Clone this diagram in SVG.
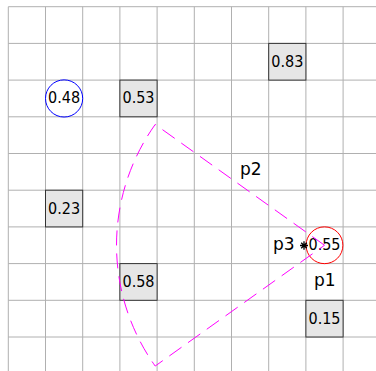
<svg xmlns="http://www.w3.org/2000/svg" width="376" height="371" viewBox="0 0 376 371">
<style>
.grid line{stroke:#b0b0b0;stroke-width:1}
.box{fill:#e6e6e6;stroke:#333333;stroke-width:1}
.lbl{font-family:"DejaVu Sans Condensed","DejaVu Sans",sans-serif;font-stretch:condensed;font-size:16px;fill:#000;text-anchor:middle}
.plbl{font-family:"DejaVu Sans",sans-serif;font-size:17px;fill:#000;text-anchor:middle}
.wedge{fill:none;stroke:#ff00ff;stroke-width:1;stroke-dasharray:15 8}
</style>
<rect width="376" height="371" fill="#ffffff"/>
<g class="grid">
<line x1="8.3" y1="6.7" x2="8.3" y2="371"/>
<line x1="45.5" y1="6.7" x2="45.5" y2="371"/>
<line x1="82.7" y1="6.7" x2="82.7" y2="371"/>
<line x1="119.9" y1="6.7" x2="119.9" y2="371"/>
<line x1="157.1" y1="6.7" x2="157.1" y2="371"/>
<line x1="194.3" y1="6.7" x2="194.3" y2="371"/>
<line x1="231.5" y1="6.7" x2="231.5" y2="371"/>
<line x1="268.7" y1="6.7" x2="268.7" y2="371"/>
<line x1="305.9" y1="6.7" x2="305.9" y2="371"/>
<line x1="343.1" y1="6.7" x2="343.1" y2="371"/>
<line x1="8.3" y1="6.7" x2="376" y2="6.7"/>
<line x1="8.3" y1="43.4" x2="376" y2="43.4"/>
<line x1="8.3" y1="80.1" x2="376" y2="80.1"/>
<line x1="8.3" y1="116.8" x2="376" y2="116.8"/>
<line x1="8.3" y1="153.5" x2="376" y2="153.5"/>
<line x1="8.3" y1="190.2" x2="376" y2="190.2"/>
<line x1="8.3" y1="226.9" x2="376" y2="226.9"/>
<line x1="8.3" y1="263.6" x2="376" y2="263.6"/>
<line x1="8.3" y1="300.3" x2="376" y2="300.3"/>
<line x1="8.3" y1="337" x2="376" y2="337"/>
</g>
<g id="node-048">
<circle cx="64.1" cy="98.45" r="18.6" fill="none" stroke="#0000ff" stroke-width="1"/>
<text class="lbl" x="64.1" y="103.4">0.48</text>
</g>
<g id="node-053">
<rect class="box" x="119.9" y="80.1" width="37.2" height="36.7"/>
<text class="lbl" x="138.5" y="103.4">0.53</text>
</g>
<g id="node-083">
<rect class="box" x="268.7" y="43.4" width="37.2" height="36.7"/>
<text class="lbl" x="287.3" y="66.7">0.83</text>
</g>
<g id="node-023">
<rect class="box" x="45.5" y="190.2" width="37.2" height="36.7"/>
<text class="lbl" x="64.1" y="213.5">0.23</text>
</g>
<g id="node-058">
<rect class="box" x="119.9" y="263.6" width="37.2" height="36.7"/>
<text class="lbl" x="138.5" y="286.9">0.58</text>
</g>
<g id="node-015">
<rect class="box" x="305.9" y="300.3" width="37.2" height="36.7"/>
<text class="lbl" x="324.5" y="323.6">0.15</text>
</g>
<g id="node-055">
<circle cx="324.5" cy="245.25" r="18.4" fill="none" stroke="#ff0000" stroke-width="1"/>
<text class="lbl" x="324.5" y="250.2">0.55</text>
</g>
<g id="connectors">
<path class="wedge" d="M324.5,245.25 L155.2,124.45 A208,208 0 0 0 155.2,366.05 Z"/>
</g>
<g id="labels">
<text class="plbl" x="250.7" y="175">p2</text>
<text class="plbl" x="283.8" y="250">p3</text>
<text class="plbl" x="324.7" y="286">p1</text>
<path d="M304,241.3 V249.7 M300,245.5 H308 M301.2,242.7 L306.8,248.3 M301.2,248.3 L306.8,242.7" stroke="#000" stroke-width="1.3" fill="none"/>
</g>
</svg>
